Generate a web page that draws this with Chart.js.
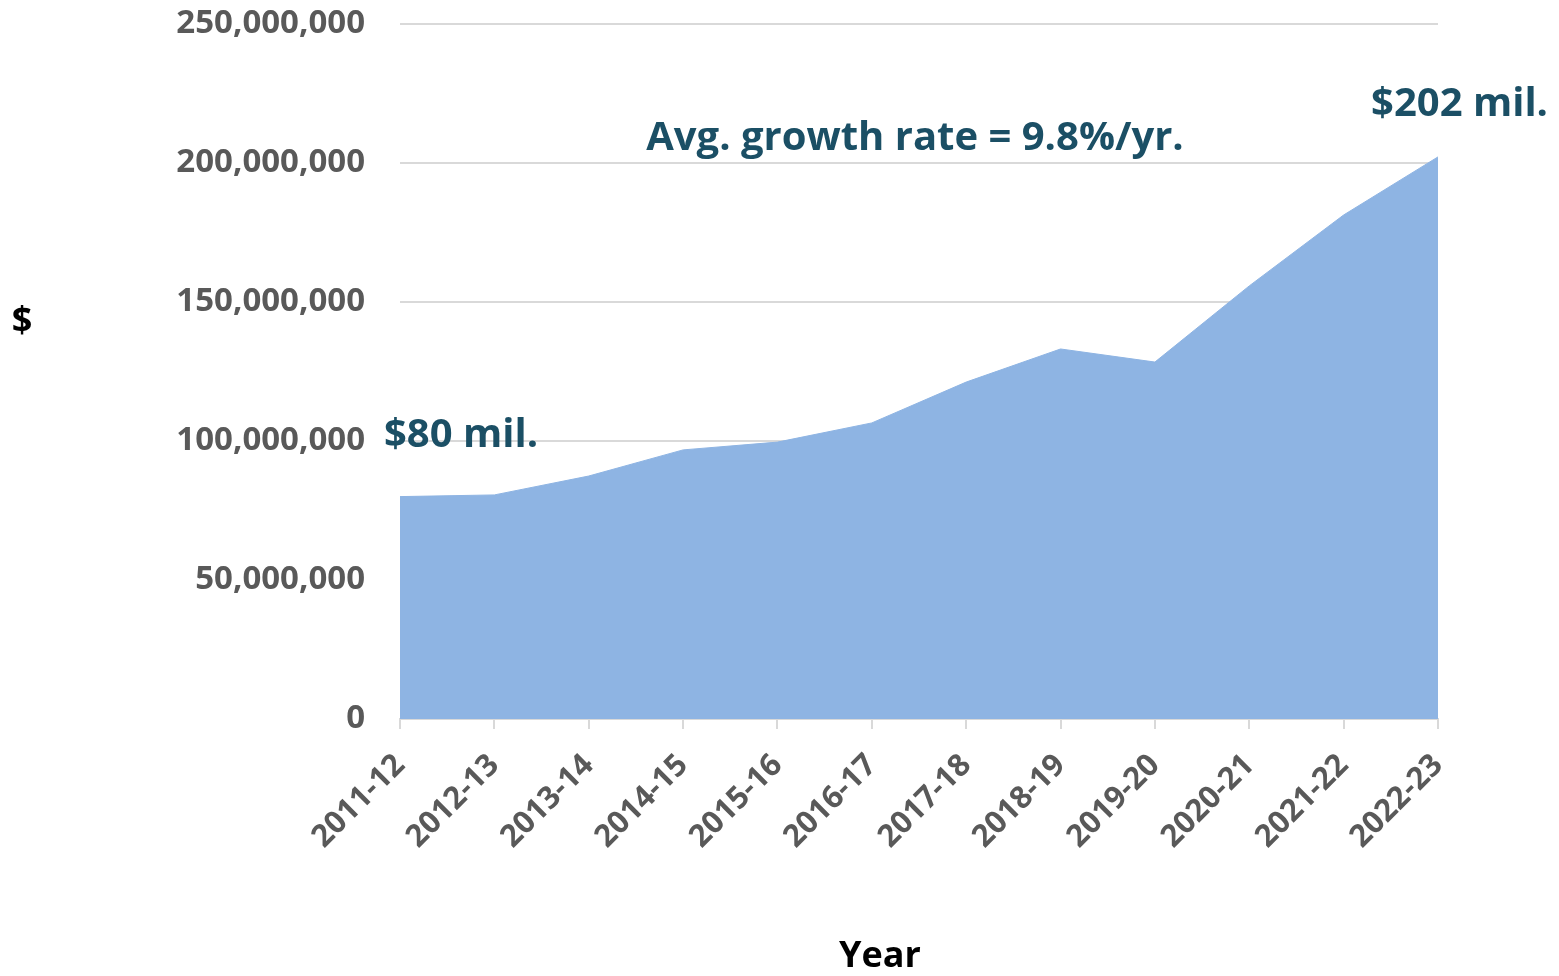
<!DOCTYPE html>
<html>
<head>
<meta charset="utf-8">
<script src="https://cdn.jsdelivr.net/npm/chart.js@4/dist/chart.umd.min.js"></script>
<style>
  html, body { margin: 0; padding: 0; background: #fff; }
  #wrap { width: 1559px; height: 976px; }
</style>
</head>
<body>
<div id="wrap"><canvas id="grafico"></canvas></div>
<script>
/* ============================
   DATI
============================ */

const anni = ['2011-12', '2012-13', '2013-14', '2014-15', '2015-16', '2016-17',
  '2017-18', '2018-19', '2019-20', '2020-21', '2021-22', '2022-23'];

const spesa = [80000000, 80600000, 87400000, 96800000, 99600000, 106500000,
  121200000, 133100000, 128400000, 155800000, 181300000, 202200000];

const etichettaInizio = '$80 mil.';
const etichettaFine = '$202 mil.';
const etichettaCrescita = 'Avg. growth rate = 9.8%/yr.';

/* ============================
   STILI
============================ */

const FONT = "'Open Sans', 'DejaVu Sans', sans-serif";
const TEAL = '#1b4f65';
const GRIGIO = '#595959';

/* ============================
   TESTI AGGIUNTIVI
============================ */

const testiPlugin = {
  id: 'testi',
  afterDraw(chart) {
    const { ctx, scales: { x, y } } = chart;
    ctx.save();

    ctx.fillStyle = TEAL;
    ctx.font = 'bold 40px ' + FONT;
    ctx.textBaseline = 'middle';

    // etichetta primo anno
    ctx.textAlign = 'left';
    ctx.fillText(etichettaInizio, x.getPixelForValue(0) - 16, y.getPixelForValue(100000000) - 5);

    // etichetta ultimo anno
    ctx.textAlign = 'right';
    ctx.fillText(etichettaFine, 1548, 105);

    // crescita media
    ctx.textAlign = 'center';
    ctx.fillText(etichettaCrescita, 915, 139);

    // titoli assi
    ctx.fillStyle = '#000';
    ctx.font = 'bold 36px ' + FONT;
    ctx.fillText('$', 22, 322);
    ctx.fillText('Year', 880, 957);

    ctx.restore();
  }
};

/* ============================
   GRAFICO
============================ */

new Chart(document.getElementById('grafico'), {
  type: 'line',
  data: {
    labels: anni,
    datasets: [{
      data: spesa,
      fill: 'origin',
      backgroundColor: '#8eb4e3',
      borderColor: '#8eb4e3',
      borderWidth: 1,
      pointRadius: 0,
      tension: 0
    }]
  },
  plugins: [testiPlugin],
  options: {
    responsive: true,
    maintainAspectRatio: false,
    animation: false,
    layout: { padding: { left: 0, right: 121, top: 24, bottom: 0 } },
    plugins: { legend: { display: false }, tooltip: { enabled: false } },
    scales: {
      x: {
        offset: false,
        afterFit: s => {
          s.height = 257;
          s.paddingLeft = 0;
          s.paddingRight = 0;
        },
        grid: {
          drawOnChartArea: false,
          color: '#d9d9d9',
          tickLength: 10,
          lineWidth: 2
        },
        border: { color: '#d9d9d9', width: 2 },
        ticks: {
          color: GRIGIO,
          font: { family: FONT, size: 31, weight: 'bold' },
          minRotation: 45,
          maxRotation: 45,
          padding: 18
        }
      },
      y: {
        min: 0,
        max: 250000000,
        afterFit: s => {
          s.width = 400;
          s.paddingTop = 0;
          s.paddingBottom = 0;
        },
        grid: { color: '#d9d9d9', lineWidth: 2, drawTicks: false },
        border: { display: false },
        ticks: {
          stepSize: 50000000,
          color: GRIGIO,
          padding: 35,
          font: { family: FONT, size: 33, weight: 'bold' },
          callback: v => v.toLocaleString('en-US')
        }
      }
    }
  }
});
</script>
</body>
</html>
